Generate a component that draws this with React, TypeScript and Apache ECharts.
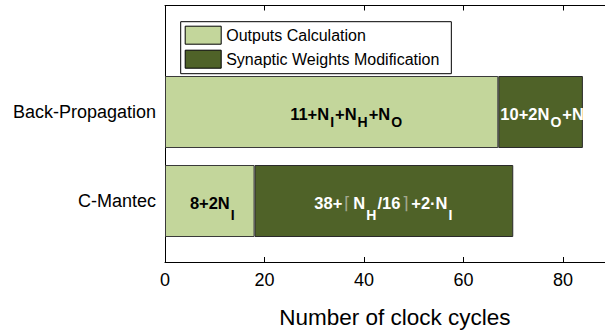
import React, { useEffect, useRef } from "react";
import * as echarts from "echarts";

const categories = ["C-Mantec", "Back-Propagation"];
const outputsCalc = [18, 67];
const synapticMod = [52, 17];
const seriesNames = ["Outputs Calculation", "Synaptic Weights Modification"];
const xTicks = { min: 0, max: 90, interval: 20 };
const outputsLabels = ["{m|8+2N}{c|I}", "{m|11+N}{s|I}{m|+N}{s|H}{m|+N}{s|O}"];
const synapticLabels = [
  "{w|38+}{g|⌈}{w|N}{cw|H}{w|/16}{g|⌉}{w|+2·N}{cw|I}",
  "{w|10+2N}{sw|O}{w|+N}{sw|H}",
];

const FONT = "'Liberation Sans', Arial, sans-serif";
const LIGHT = "#c3d69b";
const DARK = "#4f6228";
const CHART_W = 620;

const rich = {
  m: { fontSize: 16.5, fontWeight: "bold", color: "#000", lineHeight: 18, verticalAlign: "top", fontFamily: FONT },
  s: { fontSize: 14, fontWeight: "bold", color: "#000", lineHeight: 14, padding: [10, 1, 0, 1], verticalAlign: "top", fontFamily: FONT },
  c: { fontSize: 14, fontWeight: "bold", color: "#000", lineHeight: 14, padding: [13, 1, 0, 1], verticalAlign: "top", fontFamily: FONT },
  w: { fontSize: 16.5, fontWeight: "bold", color: "#fff", lineHeight: 18, verticalAlign: "top", fontFamily: FONT },
  sw: { fontSize: 14, fontWeight: "bold", color: "#fff", lineHeight: 14, padding: [10, 1, 0, 1], verticalAlign: "top", fontFamily: FONT },
  cw: { fontSize: 14, fontWeight: "bold", color: "#fff", lineHeight: 14, padding: [13, 1, 0, 1], verticalAlign: "top", fontFamily: FONT },
  g: { fontSize: 17, fontWeight: "normal", color: "#a3a88f", lineHeight: 18, verticalAlign: "top", padding: [0, 2, 0, 2], fontFamily: FONT },
};

export default function App() {
  const ref = useRef<HTMLDivElement>(null);
  useEffect(() => {
    if (!ref.current) return;
    const chart = echarts.init(ref.current, null, { renderer: "svg" });
    const gridL = 165;
    const gridR = CHART_W - 612.75;
    const outData = outputsCalc.map((v, i) => ({
      value: v,
      label: {
        show: true,
        position: "inside",
        formatter: outputsLabels[i],
        rich,
        offset: i === 0 ? [3, 2.5] : [15, 2],
      },
    }));
    const synData = synapticMod.map((v, i) => ({
      value: v,
      label: {
        show: true,
        position: i === 0 ? "inside" : "insideLeft",
        distance: 2,
        formatter: synapticLabels[i],
        rich,
        offset: i === 0 ? [0, 2.5] : [0, 2],
      },
    }));
    chart.setOption({
      animation: false,
      textStyle: { fontFamily: FONT },
      grid: [
        { left: gridL, right: gridR, top: 5.5, bottom: 71 },
        { left: gridL, right: gridR, top: 67.5, bottom: 88.5 },
      ],
      legend: {
        orient: "vertical",
        left: 180.7,
        top: 21.7,
        padding: [4, 12, 5, 4],
        itemGap: 5,
        itemWidth: 36,
        itemHeight: 18,
        backgroundColor: "#fff",
        borderColor: "#000",
        borderWidth: 1,
        borderRadius: 0,
        icon: "rect",
        textStyle: { fontSize: 16, color: "#000", fontFamily: FONT },
        itemStyle: { borderColor: "#000", borderWidth: 1 },
        data: seriesNames,
      },
      xAxis: [
        {
          type: "value",
          gridIndex: 0,
          position: "bottom",
          min: xTicks.min,
          max: xTicks.max,
          interval: xTicks.interval,
          axisLine: { show: true, lineStyle: { color: "#000", width: 1 } },
          axisTick: { show: true, inside: true, length: 5, lineStyle: { color: "#000" } },
          axisLabel: { fontSize: 18, color: "#000", margin: 9, fontFamily: FONT, showMaxLabel: false },
          splitLine: { show: false },
          name: "Number of clock cycles",
          nameLocation: "middle",
          nameGap: 44,
          nameTextStyle: { fontSize: 22.5, color: "#000", fontFamily: FONT, padding: [0, 0, 0, 12] },
        },
        {
          type: "value",
          gridIndex: 0,
          position: "top",
          min: xTicks.min,
          max: xTicks.max,
          interval: xTicks.interval,
          axisLine: { show: true, lineStyle: { color: "#000", width: 1 } },
          axisTick: { show: true, inside: true, length: 5, lineStyle: { color: "#000" } },
          axisLabel: { show: false },
          splitLine: { show: false },
        },
        {
          type: "value",
          gridIndex: 1,
          min: xTicks.min,
          max: xTicks.max,
          show: false,
        },
      ],
      yAxis: [
        {
          type: "value",
          gridIndex: 0,
          min: 0,
          max: 1,
          axisLine: { show: true, lineStyle: { color: "#000", width: 1 } },
          axisTick: { show: false },
          axisLabel: { show: false },
          splitLine: { show: false },
        },
        {
          type: "category",
          gridIndex: 1,
          data: categories,
          axisLine: { show: false },
          axisTick: { show: false },
          axisLabel: { fontSize: 18, color: "#000", margin: 9, fontFamily: FONT },
        },
      ],
      series: [
        {
          name: seriesNames[0],
          type: "bar",
          xAxisIndex: 2,
          yAxisIndex: 1,
          stack: "total",
          barWidth: 72,
          itemStyle: { color: LIGHT, borderColor: "#3a3a3a", borderWidth: 1 },
          data: outData,
        },
        {
          name: seriesNames[1],
          type: "bar",
          xAxisIndex: 2,
          yAxisIndex: 1,
          stack: "total",
          barWidth: 72,
          itemStyle: { color: DARK, borderColor: "#2a2a2a", borderWidth: 1 },
          data: synData,
        },
      ],
    });
    return () => chart.dispose();
  }, []);
  return (
    <div style={{ position: "absolute", left: 0, top: 0, width: 605, height: 334, overflow: "hidden", background: "#fff" }}>
      <div ref={ref} style={{ width: CHART_W, height: 334 }} />
    </div>
  );
}
